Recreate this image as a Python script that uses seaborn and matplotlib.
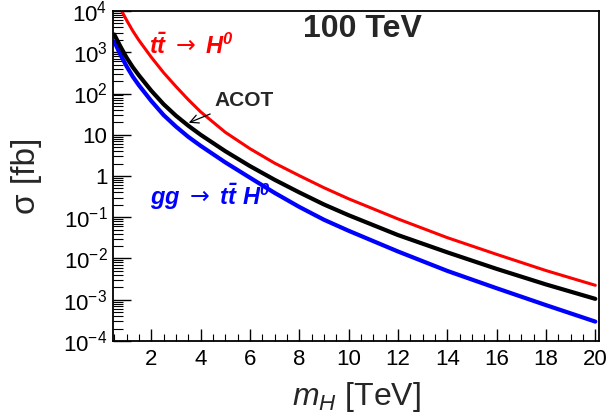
import matplotlib
matplotlib.use("Agg")
import matplotlib.pyplot as plt
import seaborn as sns
import pandas as pd
from matplotlib.ticker import MultipleLocator, LogLocator, NullFormatter

# Cross sections (fb) vs heavy Higgs mass (TeV), 100 TeV collider
mass_tt = [0.8, 1.0, 1.25, 1.5, 2.0, 2.5, 3.0, 3.5, 4.0, 5.0, 6.0, 7.0, 8.0, 9.0,
           10.0, 12.0, 14.0, 16.0, 18.0, 20.0]
sigma_tt = [1.0e4, 6.0e3, 3.3e3, 1.95e3, 7.6e2, 3.2e2, 1.48e2, 71.0, 36.0, 11.5, 4.6,
            2.05, 1.02, 0.52, 0.28, 0.091, 0.032, 0.0126, 5.1e-3, 2.24e-3]

mass = [0.5, 0.75, 1.0, 1.25, 1.5, 2.0, 2.5, 3.0, 3.5, 4.0, 5.0, 6.0, 7.0, 8.0, 9.0,
        10.0, 12.0, 14.0, 16.0, 18.0, 20.0]
sigma_acot = [2.7e3, 1.38e3, 740.0, 436.0, 275.0, 117.0, 55.0, 29.0, 16.6, 10.0, 4.0,
              1.74, 0.81, 0.40, 0.204, 0.112, 0.037, 0.0141, 5.6e-3, 2.35e-3, 1.05e-3]
sigma_ggtth = [1.82e3, 870.0, 457.0, 257.0, 158.0, 66.0, 30.0, 15.8, 8.9, 5.4, 2.14,
               0.91, 0.39, 0.178, 0.087, 0.047, 0.0148, 5.0e-3, 1.9e-3, 7.4e-4, 2.95e-4]

ytick_vals = [1e-4, 1e-3, 1e-2, 1e-1, 1, 10, 1e2, 1e3, 1e4]
ytick_labels = [r"$10^{-4}$", r"$10^{-3}$", r"$10^{-2}$", r"$10^{-1}$", "1", "10",
                r"$10^{2}$", r"$10^{3}$", r"$10^{4}$"]

sns.set_theme(style="ticks")
plt.rcParams['font.family'] = ['Liberation Sans', 'DejaVu Sans']
plt.rcParams['mathtext.fontset'] = 'custom'
plt.rcParams['mathtext.rm'] = 'Liberation Sans'
plt.rcParams['mathtext.it'] = 'Liberation Sans:italic'
plt.rcParams['mathtext.bf'] = 'Liberation Sans:bold'
plt.rcParams['mathtext.bfit'] = 'Liberation Sans:italic:bold'
plt.rcParams['mathtext.sf'] = 'DejaVu Sans'

df = pd.concat([
    pd.DataFrame({'mH': mass_tt, 'sigma': sigma_tt, 'proc': 'tt'}),
    pd.DataFrame({'mH': mass, 'sigma': sigma_acot, 'proc': 'acot'}),
    pd.DataFrame({'mH': mass, 'sigma': sigma_ggtth, 'proc': 'ggtth'}),
])
colors = {'tt': '#ff0000', 'acot': '#000000', 'ggtth': '#0000ff'}
widths = {'tt': 2.2, 'acot': 3.0, 'ggtth': 3.0}

fig = plt.figure(figsize=(6.09, 4.19), dpi=100)
ax = fig.add_axes([0.1856, 0.1862, 0.798, 0.7875])

for proc in ['tt', 'ggtth', 'acot']:
    sns.lineplot(data=df[df['proc'] == proc], x='mH', y='sigma', color=colors[proc],
                 linewidth=widths[proc], ax=ax, legend=False, sort=False)

ax.set_yscale('log')
ax.set_xlim(0.45, 20.15)
ax.set_ylim(1e-4, 1e4)

ax.xaxis.set_minor_locator(MultipleLocator(0.5))
ax.set_xticks([2, 4, 6, 8, 10, 12, 14, 16, 18, 20])
ax.set_yticks(ytick_vals)
ax.set_yticklabels(ytick_labels)
ax.yaxis.set_minor_locator(LogLocator(base=10, subs=range(2, 10), numticks=20))
ax.yaxis.set_minor_formatter(NullFormatter())

ax.tick_params(axis='both', which='both', direction='in', labelsize=16, colors='black')
ax.tick_params(axis='y', which='major', length=13, width=1.0, pad=4)
ax.tick_params(axis='y', which='minor', length=7, width=0.8)
ax.tick_params(axis='x', which='major', length=9, width=1.0, pad=6)
ax.tick_params(axis='x', which='minor', length=5, width=0.8)
for s in ax.spines.values():
    s.set_linewidth(1.3)
    s.set_color('black')

ax.set_xlabel(r"$m_H$ [TeV]", fontsize=23)
ax.set_ylabel("σ [fb]", fontsize=24)
ax.xaxis.set_label_coords(0.5, -0.118)
ax.yaxis.set_label_coords(-0.146, 0.5)

ax.text(0.513, 0.945, "100 TeV", transform=ax.transAxes, fontsize=23,
        fontweight='bold', ha='center', va='center')
ax.text(1.9, 1400, r"$\mathbfit{t\bar{t}}\ \mathsf{\rightarrow}\ \mathbfit{H^0}$",
        color='#ff0000', fontsize=17, ha='left', va='center')
ax.text(1.95, 0.32, r"$\mathbfit{gg}\ \mathsf{\rightarrow}\ \mathbfit{t\bar{t}}\ \mathbfit{H^0}$",
        color='#0000ff', fontsize=17, ha='left', va='center')
ax.annotate("ACOT", xy=(3.52, 19.5), xytext=(4.55, 69), fontsize=15, fontweight='bold',
            ha='left', va='center',
            arrowprops=dict(arrowstyle='->', color='black', lw=0.9, shrinkA=2, shrinkB=0))

fig.savefig("out.png", dpi=100)
